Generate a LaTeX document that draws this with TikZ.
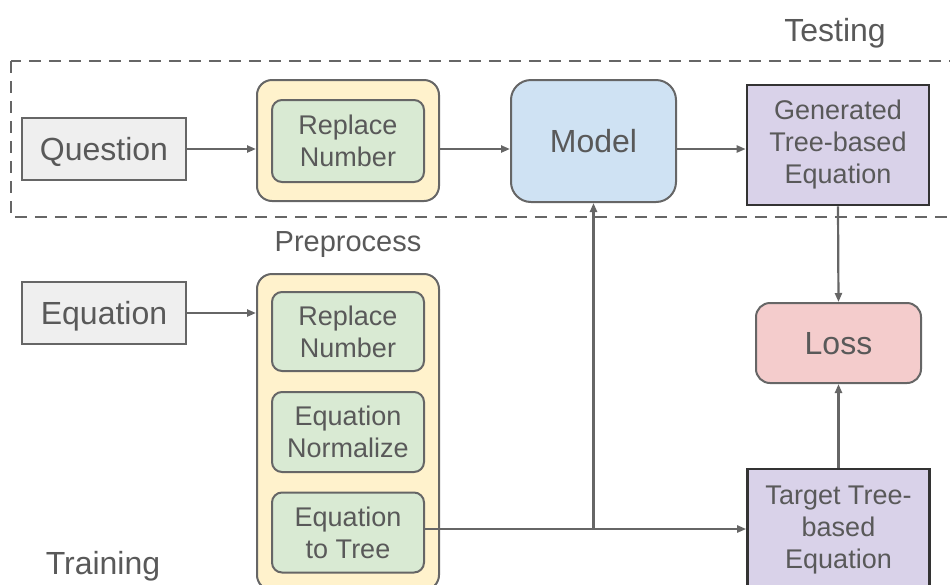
\documentclass[tikz,border=0pt]{standalone}
\usepackage{fontspec}
\setmainfont{Liberation Sans}
\usepackage{tikz}
\usetikzlibrary{positioning,arrows.meta}
\definecolor{textgray}{RGB}{89,89,89}
\definecolor{linegray}{RGB}{102,102,102}
\definecolor{boxgray}{RGB}{239,239,239}
\definecolor{prepyellow}{RGB}{255,242,204}
\definecolor{stepgreen}{RGB}{217,234,211}
\definecolor{modelblue}{RGB}{207,226,243}
\definecolor{eqpurple}{RGB}{217,210,233}
\definecolor{losspink}{RGB}{244,204,204}
\tikzset{
  bigtext/.style={font=\fontsize{16}{19}\selectfont, text=textgray, text height=11.5pt, text depth=0pt},
  smalltext/.style={font=\fontsize{13.5}{16}\selectfont, text=textgray, align=center},
  inbox/.style={bigtext, draw=linegray, line width=1pt, fill=boxgray, minimum width=82pt, minimum height=31pt, inner sep=0pt},
  prepbox/.style={draw=linegray, line width=1pt, fill=prepyellow, rounded corners=7.5pt, minimum width=91pt, inner sep=0pt},
  stepbox/.style={smalltext, draw=linegray, line width=1pt, fill=stepgreen, rounded corners=5pt, minimum width=76pt, minimum height=40pt, inner sep=0pt},
  eqbox/.style={smalltext, draw=black!80, line width=1.3pt, fill=eqpurple, minimum width=91pt, inner sep=0pt},
  arr/.style={draw=linegray, line width=1.1pt, -{Triangle[length=4.5pt,width=3.5pt]}}
}
\begin{document}
\begin{tikzpicture}[x=0.5pt, y=-0.5pt]
\useasboundingbox (0,0) rectangle (950,585);
\clip (0,0) rectangle (950,585);
% testing frame
\draw[draw=linegray, line width=1pt, dash pattern=on 6pt off 4pt] (11,61) rectangle (960,217);
\node[bigtext] (testing) at (835,30) {Testing};
\node[bigtext, font=\fontsize{14.5}{17}\selectfont] (preprocess) at (348,240) {Preprocess};
\node[bigtext] (training) at (103,563) {Training};
% testing row
\node[inbox] (question) at (104,149) {Question};
\node[prepbox, minimum height=60.5pt] (prep1) at (348,140.5) {};
\node[stepbox, minimum height=41pt] (rep1) at (348,141) {Replace\\Number};
\node[bigtext, draw=linegray, line width=1pt, fill=modelblue, rounded corners=10pt, minimum width=82.5pt, minimum height=61pt, inner sep=0pt] (model) at (593.5,141) {Model};
\node[eqbox, minimum height=60pt] (gen) at (838,145) {Generated\\Tree-based\\Equation};
% training column
\node[inbox] (equation) at (104,313) {Equation};
\node[prepbox, minimum height=158pt] (prep2) at (348,432) {};
\node[stepbox, minimum height=39.5pt] (rep2) at (348,331.5) {Replace\\Number};
\node[stepbox] (norm) at (348,432) {Equation\\Normalize};
\node[stepbox] (totree) at (348,532.5) {Equation\\to Tree};
\node[bigtext, draw=linegray, line width=1pt, fill=losspink, rounded corners=7pt, minimum width=82.5pt, minimum height=40pt, inner sep=0pt] (loss) at (838.5,343) {Loss};
\node[eqbox, minimum height=61.5pt] (target) at (838.5,530.5) {Target Tree-\\based\\Equation};
% connectors
\draw[arr] (question.east |- 0,149) -- (prep1.west |- 0,149);
\draw[arr] (prep1.east |- 0,149) -- (model.west |- 0,149);
\draw[arr] (model.east |- 0,149) -- (gen.west |- 0,149);
\draw[arr] (equation.east) -- (prep2.west |- equation.east);
\coordinate (split) at (model.south |- 0,529);
\draw[arr] (totree.east |- split) -- (target.west |- split);
\draw[arr] (split) -- (model.south);
\draw[arr] (gen.south) -- (loss.north);
\draw[arr] (target.north) -- (loss.south);
\end{tikzpicture}
\end{document}
